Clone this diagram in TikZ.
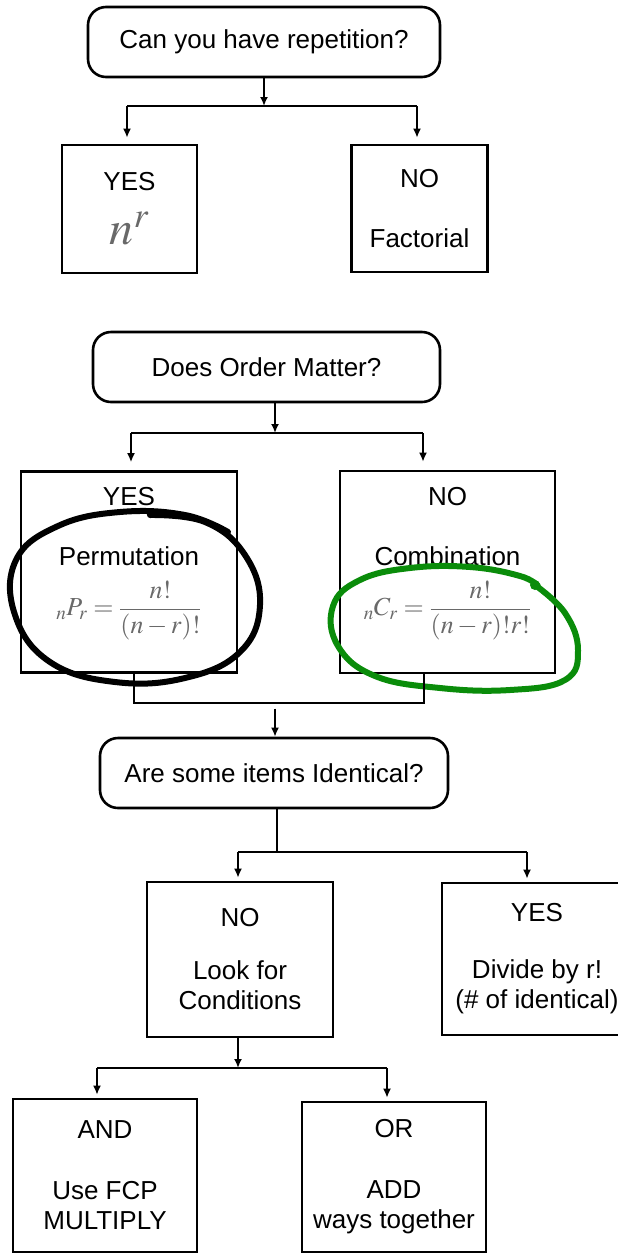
\documentclass[tikz,border=0pt]{standalone}
\usepackage{amsmath}
\usepackage{mathptmx}
\usepackage[no-math]{fontspec}
\setmainfont{Liberation Sans}
\usetikzlibrary{arrows.meta}
\definecolor{penGreen}{RGB}{10,140,10}
\definecolor{formulaGray}{RGB}{105,105,105}
\tikzset{question/.style={draw,line width=2.6pt,rounded corners=18pt,minimum height=70pt,font=\fontsize{26}{30}\selectfont},
    answer/.style={draw,line width=2.6pt,align=center,inner sep=0pt,font=\fontsize{26}{30}\selectfont},
    link/.style={line width=2.4pt},
    arr/.style={link,-{Latex[length=9pt,width=8pt]}},
    pen/.style={line width=6pt,line cap=round,line join=round}}

\begin{document}
\begin{tikzpicture}[x=1pt,y=-1pt]
    \useasboundingbox (0,0) rectangle (618,1254);

    % repetition
    \node[question,minimum width=352pt] (rep) at (264,42) {Can you have repetition?};
    \node[answer,minimum width=135pt,minimum height=128pt] (repyes) at (129.5,209)
        {YES\\[20pt]{\fontsize{48}{48}\selectfont\color{formulaGray}$n^{r}$}};
    \node[answer,minimum width=136pt,minimum height=127pt] (repno) at (419.5,208.5)
        {NO\\[30pt]Factorial};
    \coordinate (repj) at (264,106);
    \coordinate (repl) at (127,106);
    \coordinate (repr) at (417,106);
    \draw[arr] (rep.south) -- (repj);
    \draw[link] (repl) -- (repr);
    \draw[arr,shorten >=6pt] (repl) -- (repl |- repyes.north);
    \draw[arr,shorten >=6pt] (repr) -- (repr |- repno.north);

    % order
    \node[question,minimum width=347pt] (ord) at (266.5,367) {Does Order Matter?};
    \node[answer,minimum width=216pt,minimum height=201pt] (ordyes) at (129,572)
        {YES\\[30pt]Permutation\\[14pt]{\color{formulaGray}${}_{n}P_{r}=\dfrac{n!}{(n-r)!}$}\rule[-41pt]{0pt}{1pt}};
    \node[answer,minimum width=215pt,minimum height=202pt] (ordno) at (447.5,572)
        {NO\\[30pt]Combination\\[14pt]{\color{formulaGray}${}_{n}C_{r}=\dfrac{n!}{(n-r)!r!}$}\rule[-41pt]{0pt}{1pt}};
    \coordinate (ordj) at (275,433);
    \coordinate (ordl) at (131,433);
    \coordinate (ordr) at (423,433);
    \draw[arr] (ord.south -| ordj) -- (ordj);
    \draw[link] (ordl) -- (ordr);
    \draw[arr,shorten >=8pt] (ordl) -- (ordl |- ordyes.north);
    \draw[arr,shorten >=8pt] (ordr) -- (ordr |- ordno.north);

    % hand-drawn circles
    \draw[pen] plot[smooth,tension=0.7] coordinates {(150,515) (205,522) (245,555) (260,605)
        (240,652) (185,678) (115,682) (50,662) (15,615) (16,560) (58,526) (120,512) (185,515) (228,532)};
    \draw[pen,penGreen] plot[smooth,tension=0.7] coordinates {(535,585) (565,613) (578,650)
        (565,680) (510,690) (440,688) (375,676) (338,646) (333,606) (360,580) (410,568)
        (470,567) (520,576) (538,586)};
    \fill[penGreen] (535,585) circle (5pt);

    % identical items
    \node[question,minimum width=348pt] (ide) at (274,773) {Are some items Identical?};
    \coordinate (ordc) at (134,703);
    \coordinate (ordd) at (424,703);
    \draw[link] (ordyes.south -| ordc) -- (ordc) -- (ordd) -- (ordno.south -| ordd);
    \draw[arr] ([yshift=28pt]ide.north -| ordj) -- (ide.north -| ordj);
    \node[answer,minimum width=186pt,minimum height=155pt] (ideno) at (240,959.5)
        {NO\\[23pt]Look for\\Conditions};
    \node[answer,minimum width=190pt,minimum height=152pt] (ideyes) at (537,959)
        {YES\\[27pt]Divide by r!\\(\# of identical)};
    \coordinate (idej) at (277,852);
    \coordinate (idel) at (238,852);
    \coordinate (ider) at (527,852);
    \draw[link] (ide.south -| idej) -- (idej);
    \draw[link] (idel) -- (ider);
    \draw[arr,shorten >=3pt] (idel) -- (idel |- ideno.north);
    \draw[arr,shorten >=3pt] (ider) -- (ider |- ideyes.north);

    % conditions
    \node[answer,minimum width=184pt,minimum height=153pt] (cand) at (105,1175.5)
        {AND\\[31pt]Use FCP\\MULTIPLY};
    \node[answer,minimum width=184pt,minimum height=150pt] (cor) at (394,1177)
        {OR\\[31pt]ADD\\ways together};
    \coordinate (conj) at (238,1068);
    \coordinate (conl) at (97,1068);
    \coordinate (conr) at (387,1068);
    \draw[arr] (ideno.south -| conj) -- (conj);
    \draw[link] (conl) -- (conr);
    \draw[arr,shorten >=3pt] (conl) -- (conl |- cand.north);
    \draw[arr,shorten >=3pt] (conr) -- (conr |- cor.north);
\end{tikzpicture}
\end{document}
